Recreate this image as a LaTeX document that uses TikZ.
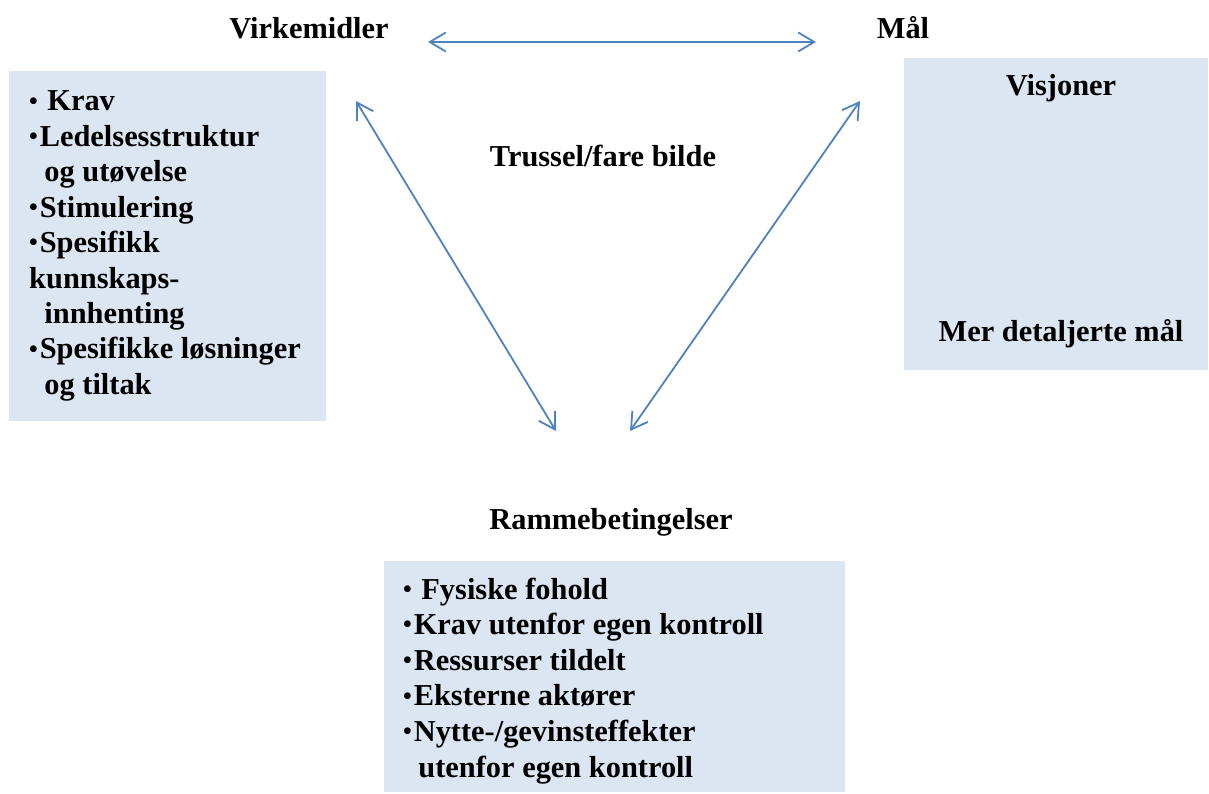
\documentclass[tikz,border=0pt]{standalone}
\usepackage{fontspec}
\setmainfont{Liberation Serif}
\usetikzlibrary{arrows.meta}
\definecolor{boxfill}{RGB}{220,230,242}
\definecolor{arrowblue}{RGB}{79,129,189}
\newcommand\smallbul{\makebox[10.6pt][l]{\raisebox{1.8pt}{\fontsize{25}{25}\selectfont•}}}
\tikzset{
  panel/.style={fill=boxfill, draw=none, inner sep=0pt, outer sep=0pt},
  head/.style={font=\bfseries\fontsize{30.4}{35.4}\selectfont, inner sep=0pt, anchor=base},
  listtext/.style={font=\bfseries\fontsize{30.4}{35.4}\selectfont, inner sep=0pt, anchor=base west},
  link/.style={draw=arrowblue, line width=1.8pt, {Straight Barb[length=16pt,width=19pt]}-{Straight Barb[length=16pt,width=19pt]}}
}
\begin{document}
\begin{tikzpicture}[x=1pt,y=-1pt]
\useasboundingbox (0,0) rectangle (1209,794);
% boxes
\fill[boxfill] (9,71) rectangle (326,421);
\fill[boxfill] (904,58) rectangle (1208,370);
\fill[boxfill] (384,561) rectangle (845,792);
% headings
\node[head] (virk) at (309,39) {Virkemidler};
\node[head] (maal) at (903,39) {Mål};
\node[head] (truss) at (603,167) {Trussel/fare bilde};
\node[head] (ramme) at (611,529) {Rammebetingelser};
\node[head] (visj) at (1061,96) {Visjoner};
\node[head] (mer) at (1061,341) {Mer detaljerte mål};
% left list
\node[listtext] (l1) at (29,111) {\smallbul\ Krav};
\node[listtext] (l2) at (29,146.4) {\smallbul Ledelsesstruktur};
\node[listtext] (l3) at (29,181.8) {\ \ og utøvelse};
\node[listtext] (l4) at (29,217.2) {\smallbul Stimulering};
\node[listtext] (l5) at (29,252.6) {\smallbul Spesifikk};
\node[listtext] (l6) at (29,288) {kunnskaps-};
\node[listtext] (l7) at (29,323.4) {\ \ innhenting};
\node[listtext] (l8) at (29,358.8) {\smallbul Spesifikke løsninger};
\node[listtext] (l9) at (29,394.2) {\ \ og tiltak};
% bottom list
\node[listtext] (b1) at (403,599) {\smallbul\ Fysiske fohold};
\node[listtext] (b2) at (403,634.6) {\smallbul Krav utenfor egen kontroll};
\node[listtext] (b3) at (403,670.2) {\smallbul Ressurser tildelt};
\node[listtext] (b4) at (403,705.8) {\smallbul Eksterne aktører};
\node[listtext] (b5) at (403,741.4) {\smallbul Nytte-/gevinsteffekter};
\node[listtext] (b6) at (403,777) {\ \ utenfor egen kontroll};
% connector ends
\coordinate (hL) at (428,42);
\coordinate (hR) at (816,42);
\coordinate (dLt) at (356,101);
\coordinate (dLb) at (556,431);
\coordinate (dRt) at (860,101);
\coordinate (dRb) at (630,431);
\draw[link] (hL) -- (hR);
\draw[link] (dLt) -- (dLb);
\draw[link] (dRt) -- (dRb);
\end{tikzpicture}
\end{document}
